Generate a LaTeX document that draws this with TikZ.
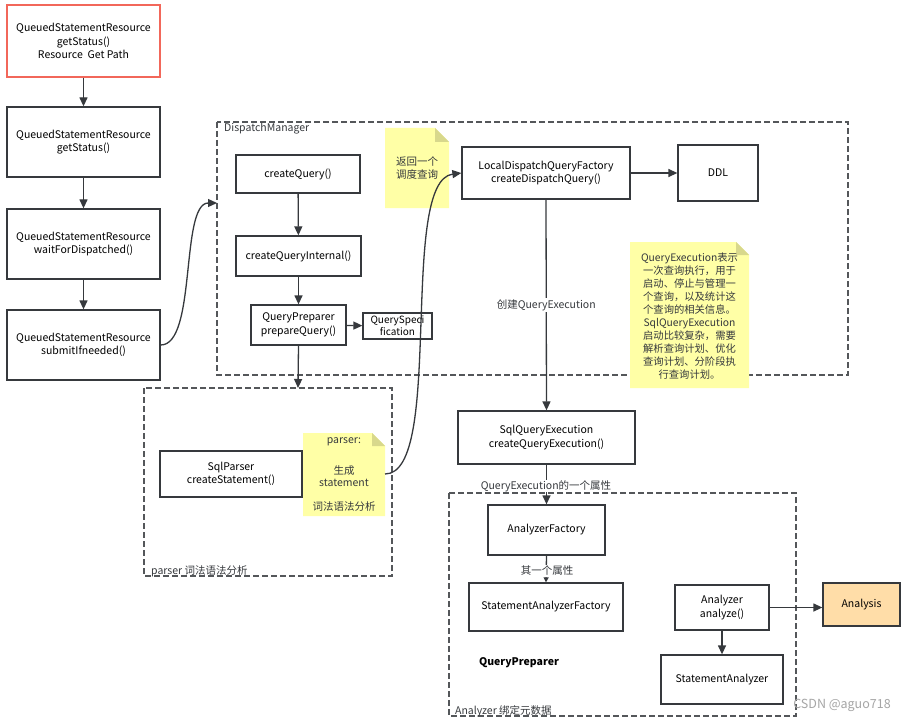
\documentclass[tikz,border=0pt]{standalone}
\usepackage{fontspec}
\setmainfont{Noto Sans CJK SC}
\usetikzlibrary{arrows.meta}
\definecolor{edge}{HTML}{36393D}
\definecolor{notey}{HTML}{FFFFA6}
\definecolor{noteear}{HTML}{D8D88C}
\definecolor{anafill}{HTML}{FFDDA8}
\definecolor{redline}{HTML}{F2675A}
\tikzset{
  box/.style={draw=edge, line width=1.3pt, fill=white, align=center, inner sep=0pt, font=\fontsize{10.5}{13.5}\selectfont},
  group/.style={draw=edge!85, line width=1.3pt, dash pattern=on 6pt off 3pt},
  grouplabel/.style={anchor=south west, inner sep=1pt, font=\fontsize{10.5}{12}\selectfont, text=edge},
  notebox/.style={fill=notey, inner sep=0pt},
  arr/.style={draw=edge, line width=1.3pt, -{Triangle[length=9pt,width=8pt]}},
  plain/.style={draw=edge, line width=1.3pt},
  lbl/.style={fill=white, inner sep=1pt, font=\fontsize{10.5}{12}\selectfont, text=edge},
  notetext/.style={align=center, inner sep=0pt, font=\fontsize{10.5}{13}\selectfont, text=edge}
}
\begin{document}
\begin{tikzpicture}[x=1pt,y=-1pt]
\useasboundingbox (0,0) rectangle (907,722);
\fill[white] (0,0) rectangle (907,722);

% containers
\draw[group] (217,122) rectangle (848,375);
\node[grouplabel, anchor=north west] (dmlabel) at (223,122) {DispatchManager};
\draw[group] (144,388) rectangle (392,576);
\node[grouplabel] (parserlabel) at (150,578) {parser 词法语法分析};
\draw[group] (449,493) rectangle (796,716);
\node[grouplabel] (anlabel) at (454,718) {Analyzer 绑定元数据};
\coordinate (dmin) at (217,203);
\coordinate (parsertop) at (298,388);

% notes
\fill[notey] (385,128) -- (435,128) -- (449,142) -- (449,208) -- (385,208) -- cycle;
\fill[noteear] (435,128) -- (449,142) -- (435,142) -- cycle;
\node[notetext] (note1) at (417,168) {返回一个\\调度查询};

\fill[notey] (630,242) -- (736,242) -- (749,255) -- (749,388) -- (630,388) -- cycle;
\fill[noteear] (736,242) -- (749,255) -- (736,255) -- cycle;
\node[notetext, font=\fontsize{10.3}{13}\selectfont] (note2) at (689.5,316) {QueryExecution表示\\一次查询执行，用于\\启动、停止与管理一\\个查询，以及统计这\\个查询的相关信息。\\SqlQueryExecution\\启动比较复杂，需要\\解析查询计划、优化\\查询计划、分阶段执\\行查询计划。};

\fill[notey] (303,433) -- (372,433) -- (385,446) -- (385,516) -- (303,516) -- cycle;
\fill[noteear] (372,433) -- (385,446) -- (372,446) -- cycle;
\node[notetext] (note3t) at (344,442) {parser:};
\node[notetext, font=\fontsize{10.5}{12}\selectfont] (note3m) at (344,476) {生成\\statement};
\node[notetext] (note3b) at (344,507) {词法语法分析};
\coordinate (note3e) at (385,474);

% left column
\node[box, draw=redline, minimum width=153pt, minimum height=72pt] (r0) at (83.5,41) {QueuedStatementResource\\getStatus()\\Resource\ \ Get Path};
\node[box, minimum width=153pt, minimum height=70pt] (r1) at (83.5,142) {QueuedStatementResource\\getStatus()};
\node[box, minimum width=153pt, minimum height=70pt] (r2) at (83.5,244) {QueuedStatementResource\\waitForDispatched()};
\node[box, minimum width=153pt, minimum height=70pt] (r3) at (83.5,345) {QueuedStatementResource\\submitIfneeded()};

% dispatch manager
\node[box, minimum width=124pt, minimum height=38pt] (cq) at (298,174) {createQuery()};
\node[box, minimum width=125pt, minimum height=40pt] (cqi) at (298.5,256) {createQueryInternal()};
\node[box, minimum width=95pt, minimum height=40pt] (pq) at (298.5,325) {QueryPreparer\\prepareQuery()};
\node[box, minimum width=69pt, minimum height=26pt, font=\fontsize{10}{12}\selectfont] (qs) at (397.5,326) {QuerySpeci\\fication};
\node[box, minimum width=168pt, minimum height=52pt] (ldqf) at (546,173) {LocalDispatchQueryFactory\\createDispatchQuery()};
\node[box, minimum width=80pt, minimum height=56pt] (ddl) at (718,173) {DDL};

% parser
\node[box, minimum width=142pt, minimum height=46pt] (sp) at (231,474) {SqlParser\\createStatement()};

% execution
\node[box, minimum width=177pt, minimum height=53pt] (sqe) at (546.5,437.5) {SqlQueryExecution\\createQueryExecution()};

% analyzer
\node[box, minimum width=117pt, minimum height=50pt] (af) at (546.5,530) {AnalyzerFactory};
\node[box, minimum width=154pt, minimum height=48pt] (saf) at (546,607) {StatementAnalyzerFactory};
\node[font=\fontsize{10.5}{12}\selectfont\bfseries, text=black] (qp) at (519,663) {QueryPreparer};
\node[box, minimum width=94pt, minimum height=45pt] (an) at (722,607.5) {Analyzer\\analyze()};
\node[box, minimum width=122pt, minimum height=49pt] (sa) at (722,679.5) {StatementAnalyzer};
\node[box, fill=anafill, minimum width=77pt, minimum height=43pt] (ana) at (861.5,604.5) {Analysis};

% connectors
\draw[arr] (r0) -- (r1);
\draw[arr] (r1) -- (r2);
\draw[arr] (r2) -- (r3);
\draw[arr] (r3.east) .. controls (197,345) and (180,203) .. (dmin);
\draw[arr] (cq) -- (cqi);
\draw[arr] (cqi) -- (pq);
\draw[arr] (pq) -- (qs);
\draw[arr] (pq.south) -- (parsertop);
\draw[arr] (note3e) .. controls (445,474) and (398,181) .. (ldqf.west);
\draw[arr] (ldqf) -- (ddl);
\draw[arr] (ldqf.south) -- (sqe.north) node[lbl, pos=0.5] (l1) {创建QueryExecution};
\draw[arr] (sqe.south) -- (af.north);
\node[lbl, inner sep=0.5pt] (l2) at (546,486) {QueryExecution的一个属性};
\draw[plain, -{Triangle[length=5pt,width=5pt]}] (af.south) -- (saf.north);
\node[lbl] (l3) at (547,571) {其一个属性};
\draw[arr] (an) -- (sa);
\draw[arr] (an.east) -- (an.east -| ana.west);

% watermark
\node[text=black!35, font=\fontsize{12.5}{13}\selectfont] (wm) at (842,705) {CSDN @aguo718};
\end{tikzpicture}
\end{document}
